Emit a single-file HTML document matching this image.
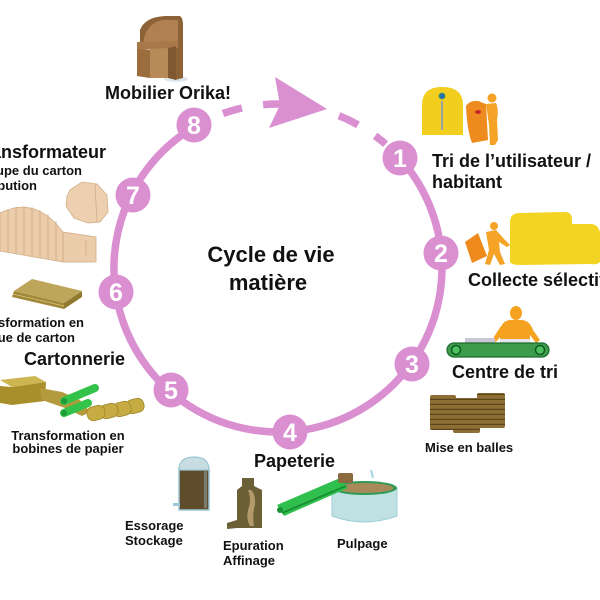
<!DOCTYPE html>
<html><head><meta charset="utf-8"><style>
html,body{margin:0;padding:0;background:#fff;width:600px;height:600px;overflow:hidden}
svg{display:block}
text{font-family:"Liberation Sans",Arial,sans-serif;font-weight:bold;fill:#111}
.num{fill:#fff;font-size:25px}
</style></head><body>
<svg width="600" height="600" viewBox="0 0 600 600" xmlns="http://www.w3.org/2000/svg">
<defs>
<pattern id="bale" width="6" height="5" patternUnits="userSpaceOnUse"><rect width="6" height="5" fill="#8d6e34"/><rect y="3.8" width="6" height="1.2" fill="#5a4519"/></pattern>
</defs>
<rect width="600" height="600" fill="#fff"/>

<!-- cycle -->
<g fill="none" stroke="#da8fd1" stroke-width="7.5">
<path d="M399.9 158.3 A164 164 0 1 1 195 126.5"/>
<path d="M223 113.5 A164 164 0 0 1 241.9 108"/>
<path d="M263.1 104.7 A164 164 0 0 1 283.7 104.1"/>
<path d="M338.9 115.7 A164 164 0 0 1 358 124.8"/>
<path d="M375.1 135.8 A164 164 0 0 1 385.6 144.2"/>
</g>
<polygon points="275,77 327,109 269,128 280,105" fill="#da8fd1"/>
<g fill="#da8fd1">
<circle cx="400" cy="158" r="17.5"/>
<circle cx="441" cy="253" r="17.5"/>
<circle cx="412" cy="364" r="17.5"/>
<circle cx="290" cy="432" r="17.5"/>
<circle cx="171" cy="390" r="17.5"/>
<circle cx="116" cy="292" r="17.5"/>
<circle cx="133" cy="195" r="17.5"/>
<circle cx="194" cy="125" r="17.5"/>
</g>
<g text-anchor="middle">
<text class="num" x="400" y="167">1</text>
<text class="num" x="441" y="262">2</text>
<text class="num" x="412" y="373">3</text>
<text class="num" x="290" y="441">4</text>
<text class="num" x="171" y="399">5</text>
<text class="num" x="116" y="301">6</text>
<text class="num" x="133" y="204">7</text>
<text class="num" x="194" y="134">8</text>
</g>

<!-- center title -->
<text x="271" y="262" font-size="22" text-anchor="middle">Cycle de vie</text>
<text x="268" y="290" font-size="22" text-anchor="middle">matière</text>

<!-- chair -->
<ellipse cx="176" cy="79" rx="12" ry="3" fill="#dfe7ee"/>
<path d="M140 30 Q145 17 165 16 L180 16 Q183 18 183 25 L183 78 L175 80 L175 45 L140 45 Z" fill="#8c6236"/>
<path d="M143 44 Q145 24 162 20 L178 20 L178 42 Z" fill="#b08050"/>
<polygon points="137,42 178,41 178,48 137,50" fill="#a87848"/>
<polygon points="137,49 150,50 150,78 137,76" fill="#9b6d3d"/>
<polygon points="150,49 168,48 168,78 150,78" fill="#b88a58"/>
<polygon points="168,48 176,46 176,80 168,78" fill="#7f5730"/>
<text x="168" y="99" font-size="18" text-anchor="middle">Mobilier Orika!</text>

<!-- 1: tri -->
<path d="M422 135 L422 105 Q422 87 442 87 Q463 87 463 105 L463 135 Z" fill="#f2cf1f"/>
<circle cx="442" cy="96" r="3" fill="#2a6fb5" stroke="#3a9a50" stroke-width="0.8"/>
<rect x="441" y="101" width="2" height="29" fill="#9aa3a8"/>
<path d="M466 106 Q470 100 478 101 L486 104 L488 140 L472 143 Q467 130 466 106 Z" fill="#ee8b1e"/>
<ellipse cx="478" cy="112" rx="3" ry="2" fill="#c0282a"/>
<circle cx="492" cy="98" r="4.5" fill="#f4a327"/>
<path d="M486 104 L496 103 Q499 110 497 120 L498 140 L495 145 L490 145 L489 125 Z" fill="#f4a327"/>
<text x="432" y="167" font-size="18">Tri de l’utilisateur /</text>
<text x="432" y="188" font-size="18">habitant</text>

<!-- 2: collecte -->
<path d="M510 262 L510 222 Q510 214 518 213 L565 212 Q572 212 572 220 L572 224 L592 224 Q598 225 600 232 L600 262 Q597 265 590 264 L520 265 Q512 265 510 262 Z" fill="#f4d423"/>
<polygon points="465,242 478,233 487,256 472,263" fill="#ee8a1c"/>
<circle cx="494" cy="226" r="4" fill="#f4a327"/>
<path d="M486 232 L496 230 L505 240 L510 245 L507 247 L499 242 L500 252 L505 264 L500 265 L494 254 L490 265 L485 264 L489 250 Z" fill="#f4a327"/>
<text x="468" y="286" font-size="18">Collecte sélective</text>

<!-- 3: centre de tri -->
<ellipse cx="516" cy="313" rx="6" ry="7" fill="#f4a21f"/>
<path d="M500 345 L500 330 Q502 321 510 320 L522 320 Q530 321 533 330 L540 340 L536 343 L530 335 L530 345 Z" fill="#f4a21f"/>
<path d="M501 326 L492 340 L496 342 L503 333 Z" fill="#f4a21f"/>
<rect x="465" y="338" width="30" height="5" fill="#c9c6d8"/>
<rect x="500" y="339" width="30" height="4" fill="#e6e3ec"/>
<rect x="447" y="343" width="102" height="14" rx="7" fill="#3d9c4c" stroke="#1d6b2c" stroke-width="1.2"/>
<circle cx="456" cy="350" r="4.5" fill="#4fc060" stroke="#0e5a20" stroke-width="1.5"/>
<circle cx="540" cy="350" r="4.5" fill="#4fc060" stroke="#0e5a20" stroke-width="1.5"/>
<text x="452" y="378" font-size="18">Centre de tri</text>

<!-- bales -->
<rect x="430" y="395" width="26" height="35" rx="2" fill="url(#bale)"/>
<rect x="477" y="393" width="28" height="35" rx="2" fill="url(#bale)"/>
<rect x="453" y="398" width="27" height="35" rx="2" fill="url(#bale)"/>
<text x="425" y="452" font-size="13">Mise en balles</text>

<!-- 4: papeterie -->
<text x="254" y="467" font-size="18">Papeterie</text>
<rect x="179" y="468" width="30" height="42" fill="#5e4c2a" stroke="#9cc7d6" stroke-width="1.5"/>
<path d="M179 470 Q179 457 194 457 Q209 457 209 470 Z" fill="#c8dde2" stroke="#9cc7d6" stroke-width="1.2"/>
<rect x="204" y="471" width="3" height="37" fill="#8aa0a0" opacity="0.6"/>
<rect x="173" y="503" width="7" height="3" fill="#9cc7d6"/>
<path d="M242 478 L254 478 L254 486 L262 490 L262 528 L237 528 L237 490 L242 486 Z" fill="#6b5f36"/>
<path d="M248 490 Q252 500 248 510 Q246 520 250 526 L254 526 Q252 515 255 505 Q256 495 251 490 Z" fill="#b39a6a"/>
<path d="M227 523 L237 520 L237 528 L227 529 Z" fill="#6b5f36"/>
<path d="M332 488 L332 516 Q364 528 397 516 L397 488 Z" fill="#bfe1e4" stroke="#9ccfd4"/>
<ellipse cx="364.5" cy="488" rx="32.5" ry="7" fill="#2e9c56"/>
<ellipse cx="364.5" cy="488" rx="29" ry="5" fill="#a88a5a"/>
<polygon points="277,505 340,478 348,488 284,516" fill="#2fbf4c"/>
<line x1="282" y1="513" x2="346" y2="486" stroke="#1a9036" stroke-width="2"/>
<circle cx="280" cy="510" r="3" fill="#1a9036"/>
<rect x="338" y="473" width="15" height="10" rx="2" fill="#8a6a3e"/>
<path d="M371 470 L373 478" stroke="#9fd6e0" stroke-width="2"/>
<text x="125" y="530" font-size="13">Essorage</text>
<text x="125" y="545" font-size="13">Stockage</text>
<text x="223" y="550" font-size="13">Epuration</text>
<text x="223" y="565" font-size="13">Affinage</text>
<text x="337" y="548" font-size="13">Pulpage</text>

<!-- 5: cartonnerie -->
<polygon points="0,380 35,376 46,382 12,387" fill="#cdb552"/>
<polygon points="0,386 12,387 46,382 45,401 12,405 0,403" fill="#a88f2c"/>
<path d="M40 388 L62 392 L80 400 L90 412 L82 416 L65 408 L42 400 Z" fill="#b39a3c"/>
<line x1="64" y1="401" x2="95" y2="388" stroke="#33c24a" stroke-width="8" stroke-linecap="round"/>
<line x1="64" y1="413" x2="88" y2="403" stroke="#33c24a" stroke-width="8" stroke-linecap="round"/>
<circle cx="64" cy="401" r="3" fill="#1e9a36"/>
<circle cx="64" cy="413" r="3" fill="#1e9a36"/>
<g fill="#c6aa42" stroke="#9d8428" stroke-width="0.8">
<rect x="126" y="399" width="18" height="14" rx="6" transform="rotate(-15 135 406)"/>
<rect x="113" y="402" width="18" height="14" rx="6" transform="rotate(-15 122 409)"/>
<rect x="100" y="404" width="18" height="14" rx="6" transform="rotate(-15 109 411)"/>
<rect x="87" y="406" width="18" height="14" rx="6" transform="rotate(-15 96 413)"/>
</g>
<text x="24" y="365" font-size="18">Cartonnerie</text>
<text x="68" y="440" font-size="13" text-anchor="middle">Transformation en</text>
<text x="68" y="453" font-size="13" text-anchor="middle">bobines de papier</text>

<!-- 6: plaque -->
<polygon points="14,291 64,303 64,309 12,297" fill="#a08838"/>
<polygon points="64,303 82,291 82,297 64,309" fill="#8f7a30"/>
<polygon points="14,291 32,279 82,291 64,303" fill="#bda55a"/>
<line x1="13" y1="294" x2="64" y2="306" stroke="#d8c57a" stroke-width="0.8"/>
<text x="84" y="327" font-size="13" text-anchor="end">Transformation en</text>
<text x="75" y="342" font-size="13" text-anchor="end">plaque de carton</text>

<!-- 7: transformateur -->
<path d="M0 213 Q35 195 63 232 L96 237 L96 262 L63 262 L0 251 Z" fill="#ebcdab" stroke="#d2ad85" stroke-width="0.8"/>
<g stroke="#caa27c" stroke-width="0.7">
<line x1="8" y1="210" x2="8" y2="252"/><line x1="16" y1="207" x2="16" y2="254"/>
<line x1="24" y1="206" x2="24" y2="255"/><line x1="32" y1="207" x2="32" y2="256"/>
<line x1="40" y1="210" x2="40" y2="258"/><line x1="48" y1="214" x2="48" y2="259"/>
<line x1="56" y1="221" x2="56" y2="261"/><line x1="63" y1="232" x2="63" y2="262"/>
<line x1="86" y1="240" x2="86" y2="255"/>
</g>
<polygon points="70,190 82,182 97,184 107,195 108,212 100,222 88,223 74,218 66,206 67,196" fill="#ecd0b0" stroke="#d2ad85" stroke-width="0.8"/>
<line x1="95" y1="184" x2="97" y2="222" stroke="#d2ad85" stroke-width="0.8"/>
<text x="106" y="158" font-size="18" text-anchor="end">Transformateur</text>
<text x="82" y="175" font-size="13" text-anchor="end">Découpe du carton</text>
<text x="37" y="190" font-size="13" text-anchor="end">Distribution</text>
</svg>
</body></html>
